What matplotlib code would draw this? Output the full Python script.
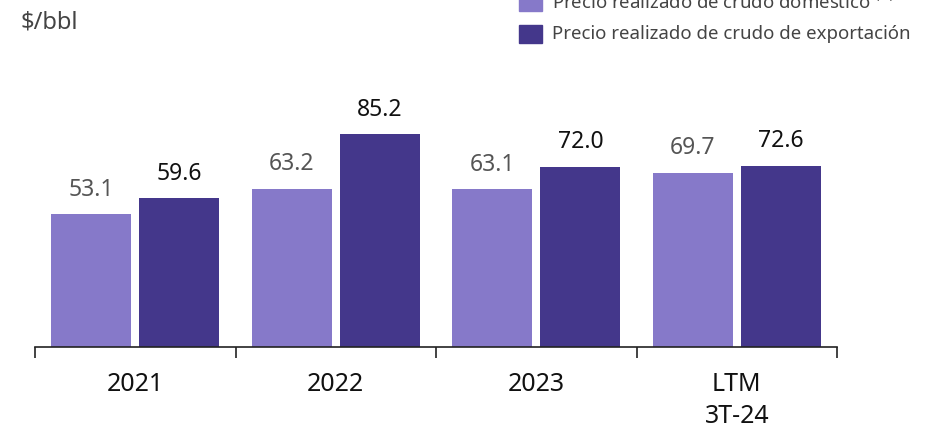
import matplotlib.pyplot as plt
from matplotlib.patches import Rectangle
import numpy as np

plt.rcParams['font.family'] = ['Noto Sans', 'DejaVu Sans']

# datos
categorias = ['2021', '2022', '2023', 'LTM\n3T-24']
domestico = [53.1, 63.2, 63.1, 69.7]
exportacion = [59.6, 85.2, 72.0, 72.6]
serie_nombres = ['Precio realizado de crudo doméstico $^{(3)}$',
                 'Precio realizado de crudo de exportación']

c_claro = '#8679c9'
c_oscuro = '#44378b'

fig = plt.figure(figsize=(9.32, 4.28), dpi=100)
ax = fig.add_axes([35/932, 81/428, 802/932, 250/428])

x = np.arange(len(categorias))
w = 0.4
b1 = ax.bar(x - 0.22, domestico, w, color=c_claro)
b2 = ax.bar(x + 0.22, exportacion, w, color=c_oscuro)

for b, v in zip(b1, domestico):
    ax.annotate(f'{v:.1f}', (b.get_x() + b.get_width()/2, v), xytext=(0, 9),
                textcoords='offset points', ha='center', va='bottom',
                fontsize=16.5, color='#555555')
for b, v in zip(b2, exportacion):
    ax.annotate(f'{v:.1f}', (b.get_x() + b.get_width()/2, v), xytext=(0, 9),
                textcoords='offset points', ha='center', va='bottom',
                fontsize=16.5, color='#111111')

ax.set_xlim(-0.5, len(categorias) - 0.5)
ax.set_ylim(0, 100)
ax.set_yticks([])
for s in ['top', 'right', 'left']:
    ax.spines[s].set_visible(False)
ax.spines['bottom'].set_color('#222222')
ax.spines['bottom'].set_linewidth(1.2)

ax.set_xticks(x)
ax.set_xticklabels(categorias, fontsize=18, color='#111111', linespacing=1.35)
ax.tick_params(axis='x', which='major', length=0, pad=18)
ax.set_xticks(np.arange(len(categorias) + 1) - 0.5, minor=True)
ax.tick_params(axis='x', which='minor', length=8, width=1.2, color='#222222')

fig.text(20/932, 1 - 22/428, '$/bbl', fontsize=17, color='#444444',
         va='center', ha='left')

# leyenda
for i, (nom, col) in enumerate(zip(serie_nombres, [c_claro, c_oscuro])):
    yc = 1 - (2 + 32*i)/428
    fig.patches.append(Rectangle((519/932, yc - 9/428), 23/932, 18/428,
                                 color=col, transform=fig.transFigure))
    fig.text(552/932, yc, nom, fontsize=13.4, color='#444444',
             va='center', ha='left')

fig.savefig('out.png', dpi=100)
